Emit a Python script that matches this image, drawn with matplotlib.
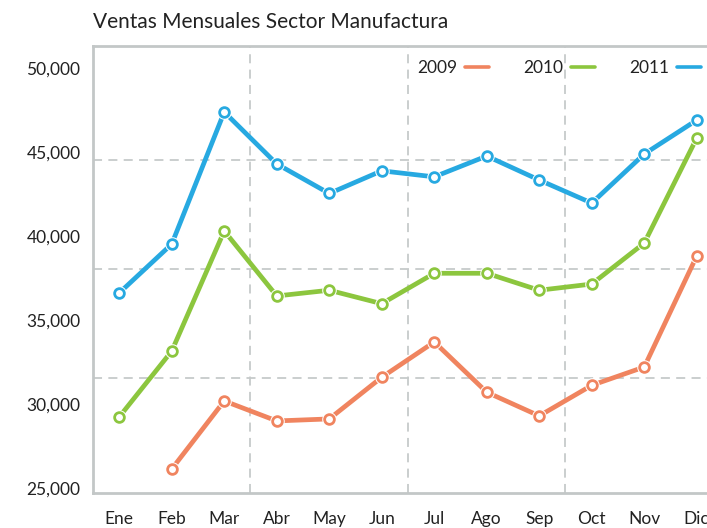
import matplotlib
matplotlib.use('Agg')
import matplotlib.pyplot as plt
from matplotlib.ticker import FuncFormatter

plt.rcParams['font.family'] = ['Lato', 'DejaVu Sans']

# datos
meses = ['Ene', 'Feb', 'Mar', 'Abr', 'May', 'Jun', 'Jul', 'Ago', 'Sep', 'Oct', 'Nov', 'Dic']
ventas_2009 = [None, 26130, 30180, 28990, 29110, 31590, 33690, 30700, 29290, 31110, 32200, 38810]
ventas_2010 = [29230, 33150, 40300, 36430, 36770, 35970, 37780, 37780, 36770, 37140, 39580, 45830]
ventas_2011 = [36610, 39520, 47380, 44290, 42530, 43880, 43520, 44760, 43330, 41960, 44880, 46900]
y_ticks = [25000, 30000, 35000, 40000, 45000, 50000]

series = [
    ('2009', ventas_2009, '#f0845f'),
    ('2010', ventas_2010, '#8cc63e'),
    ('2011', ventas_2011, '#27a9e1'),
]

grid_color = '#c6caca'
text_color = '#222222'

fig = plt.figure(figsize=(7.07, 5.28), dpi=100)
# axes sigue mas alla del borde derecho (grafico recortado)
ax = fig.add_axes([93 / 707, 35 / 528, 630 / 707, 447 / 528])

x = list(range(len(meses)))

# rejilla decorativa
for xv in [2.5, 5.5, 8.5]:
    ax.axvline(xv, color=grid_color, lw=1.3, ls=(0, (5, 3.5)), zorder=1)
for yv in [31550, 38040, 44520]:
    ax.axhline(yv, color=grid_color, lw=1.3, ls=(0, (5, 3.5)), zorder=1)

for name, vals, color in series:
    xs = [i for i, v in zip(x, vals) if v is not None]
    ys = [v for v in vals if v is not None]
    ax.plot(xs, ys, color=color, lw=3.4, solid_capstyle='round', zorder=3, label=name)
    ax.plot(xs, ys, ls='none', marker='o', ms=10.5, mfc='white', mec='white', mew=0, zorder=4)
    ax.plot(xs, ys, ls='none', marker='o', ms=7, mfc='white', mec=color, mew=2, zorder=5)

ax.set_xlim(-0.5, 11.5)
ax.set_ylim(24700, 51310)
ax.set_xticks(x)
ax.set_xticklabels(meses)
ax.set_yticks(y_ticks)
ax.yaxis.set_major_formatter(FuncFormatter(lambda v, p: f'{int(v):,}'))
ax.tick_params(axis='both', length=0, labelsize=12.5, colors=text_color)
ax.tick_params(axis='x', pad=13)
ax.tick_params(axis='y', pad=9)

for side in ['left', 'bottom', 'top']:
    ax.spines[side].set_color('#c3c7c7')
    ax.spines[side].set_linewidth(2)
ax.spines['right'].set_visible(False)

leg = ax.legend(loc='center right', bbox_to_anchor=(0.965, 0.951), ncol=3, frameon=False,
                markerfirst=False, handlelength=1.38, handletextpad=0.46, columnspacing=1.95,
                fontsize=12.5, labelcolor=text_color, borderpad=0, borderaxespad=0)
for h in leg.legend_handles:
    h.set_linewidth(2.6)

fig.text(93 / 707, 1 - 22 / 528, 'Ventas Mensuales Sector Manufactura',
         fontsize=15, color=text_color, va='center', ha='left')

fig.savefig('out.png', dpi=100)
